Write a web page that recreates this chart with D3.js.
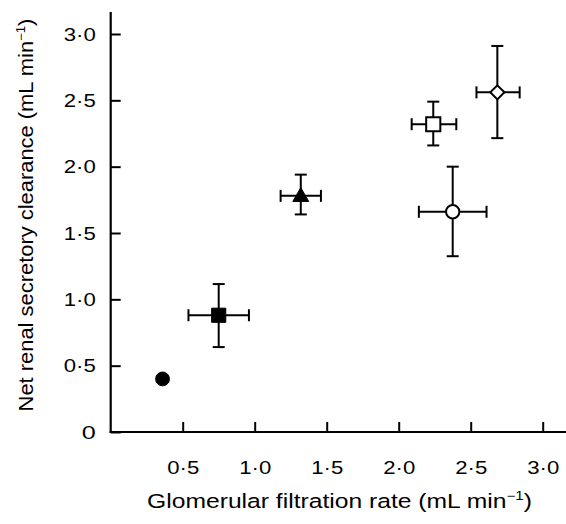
<!DOCTYPE html>
<html>
<head>
<meta charset="utf-8">
<script src="https://cdn.jsdelivr.net/npm/d3@7"></script>
<style>
  body { margin: 0; background: #fff; }
  text { font-family: "Liberation Sans", Arial, sans-serif; fill: #000; }
</style>
</head>
<body>
<svg id="chart" width="566" height="524"></svg>
<script>
// values
var symbols  = ['hexagon', 'square', 'triangle', 'square', 'circle', 'diamond'];
var filled   = [true, true, true, false, false, false];
var gfr      = [0.36, 0.75, 1.32, 2.24, 2.375, 2.685];
var gfrLo    = [0.36, 0.54, 1.18, 2.09, 2.14, 2.54];
var gfrHi    = [0.36, 0.96, 1.46, 2.40, 2.61, 2.84];
var clear    = [0.40, 0.88, 1.78, 2.32, 1.66, 2.56];
var clearLo  = [0.40, 0.64, 1.64, 2.16, 1.325, 2.215];
var clearHi  = [0.40, 1.115, 1.94, 2.49, 2.00, 2.91];
var xTicks   = [0.5, 1.0, 1.5, 2.0, 2.5, 3.0];
var yTicks   = [0, 0.5, 1.0, 1.5, 2.0, 2.5, 3.0];

var svg = d3.select('#chart');

var x = d3.scaleLinear().domain([0, 3]).range([110.7, 542.7]);
var y = d3.scaleLinear().domain([0, 3]).range([432, 34]);

var fmt = function(d){ return d === 0 ? '0' : d3.format('.1f')(d).replace('.', '\u00b7'); };

// y axis (ticks point inward)
var yAxis = svg.append('g')
  .attr('transform', 'translate(' + x(0) + ',0)')
  .call(d3.axisLeft(y).tickValues(yTicks).tickFormat(fmt)
          .tickSizeInner(-10).tickSizeOuter(0).tickPadding(15));
yAxis.select('.domain').remove();
yAxis.append('line')
  .attr('x1', 0).attr('x2', 0)
  .attr('y1', y(0) + 1).attr('y2', 12)
  .attr('stroke', '#000').attr('stroke-width', 2.2);

// x axis
var xAxis = svg.append('g')
  .attr('transform', 'translate(0,' + y(0) + ')')
  .call(d3.axisBottom(x).tickValues(xTicks).tickFormat(fmt)
          .tickSizeInner(-10).tickSizeOuter(0).tickPadding(29));
xAxis.select('.domain').remove();
xAxis.append('line')
  .attr('x1', x(0) - 1).attr('x2', 566)
  .attr('y1', 0).attr('y2', 0)
  .attr('stroke', '#000').attr('stroke-width', 2.2);

svg.selectAll('.tick line').attr('stroke', '#000').attr('stroke-width', 2);
svg.selectAll('.tick text')
  .style('font-size', '19px')
  .style('font-family', '"Liberation Sans", Arial, sans-serif')
  .attr('lengthAdjust', 'spacingAndGlyphs')
  .attr('textLength', function(d){ return d === 0 ? 14 : 32; });

// the scanned lettering is wider than Arial, stretch to the measured width
function stretch(sel, width, cx, cy, angle){
  var w = sel.node().getBBox().width;
  sel.attr('transform', 'translate(' + cx + ',' + cy + ') rotate(' + angle + ') scale(' + (width / w) + ',1)');
}

var xt = svg.append('text')
  .attr('text-anchor', 'middle')
  .style('font-size', '19.5px');
xt.append('tspan').text('Glomerular filtration rate (mL min');
xt.append('tspan').attr('dy', -8).style('font-size', '12px').text('\u22121');
xt.append('tspan').attr('dy', 8).text(')');
stretch(xt, 385, 339.5, 508, 0);

var yt = svg.append('text')
  .attr('text-anchor', 'middle')
  .style('font-size', '20px');
yt.append('tspan').text('Net renal secretory clearance (mL min');
yt.append('tspan').attr('dy', -8).style('font-size', '12px').text('\u22121');
yt.append('tspan').attr('dy', 8).text(')');
stretch(yt, 393, 33, 215, -90);

// error bars
var idx = d3.range(gfr.length);
var cap = 6;
var bars = svg.append('g').attr('stroke', '#000').attr('stroke-width', 2);

idx.forEach(function(i){
  if (gfrHi[i] > gfrLo[i]) {
    bars.append('line').attr('x1', x(gfrLo[i])).attr('x2', x(gfrHi[i]))
      .attr('y1', y(clear[i])).attr('y2', y(clear[i]));
    [gfrLo[i], gfrHi[i]].forEach(function(v){
      bars.append('line').attr('x1', x(v)).attr('x2', x(v))
        .attr('y1', y(clear[i]) - cap).attr('y2', y(clear[i]) + cap);
    });
  }
  if (clearHi[i] > clearLo[i]) {
    bars.append('line').attr('x1', x(gfr[i])).attr('x2', x(gfr[i]))
      .attr('y1', y(clearLo[i])).attr('y2', y(clearHi[i]));
    [clearLo[i], clearHi[i]].forEach(function(v){
      bars.append('line').attr('x1', x(gfr[i]) - cap).attr('x2', x(gfr[i]) + cap)
        .attr('y1', y(v)).attr('y2', y(v));
    });
  }
});

// markers
var symType = {
  square: d3.symbolSquare,
  triangle: d3.symbolTriangle,
  circle: d3.symbolCircle,
  diamond: d3.symbolSquare,
  hexagon: d3.symbolCircle
};
var symSize = { square: 200, triangle: 110, circle: 140, diamond: 100, hexagon: 150 };

svg.append('g').selectAll('path')
  .data(idx)
  .enter()
  .append('path')
  .attr('d', function(i){ return d3.symbol().type(symType[symbols[i]]).size(symSize[symbols[i]])(); })
  .attr('transform', function(i){
    var t = 'translate(' + x(gfr[i]) + ',' + y(clear[i]) + ')';
    if (symbols[i] === 'diamond') t += ' rotate(45)';
    if (symbols[i] === 'triangle') t += ' translate(0,1)';
    return t;
  })
  .attr('fill', function(i){ return filled[i] ? '#000' : '#fff'; })
  .attr('stroke', '#000')
  .attr('stroke-width', function(i){ return filled[i] ? 1 : 2; });
</script>
</body>
</html>
